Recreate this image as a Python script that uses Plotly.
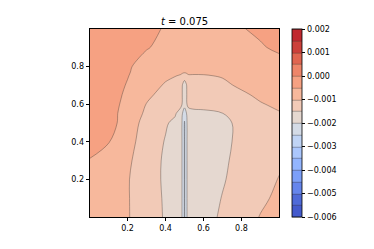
import numpy as np
import plotly.graph_objects as go

# ---------------- data ----------------
X = [0.0, 0.1, 0.2, 0.3, 0.4, 0.45, 0.48, 0.49, 0.5, 0.51, 0.52, 0.55, 0.6, 0.7, 0.8, 0.9, 1.0]
Y = [0.0, 0.1, 0.2, 0.3, 0.4, 0.5, 0.55, 0.6, 0.65, 0.7, 0.75, 0.77, 0.8, 0.9, 1.0]

row_000 = [-0.0007, -0.00083, -0.00097, -0.00123, -0.00155, -0.0017, -0.0019, -0.00205, -0.00255, -0.00205, -0.0019, -0.0018, -0.0017, -0.00142, -0.00118, -0.00098, -0.0008]
row_010 = [-0.00072, -0.00085, -0.00097, -0.00125, -0.00156, -0.0017, -0.0019, -0.00205, -0.00255, -0.00205, -0.0019, -0.0018, -0.00172, -0.00148, -0.00125, -0.00107, -0.00092]
row_020 = [-0.00072, -0.00086, -0.00097, -0.00126, -0.00158, -0.00172, -0.0019, -0.00205, -0.00255, -0.00205, -0.0019, -0.0018, -0.00174, -0.00154, -0.00132, -0.00115, -0.00098]
row_030 = [-0.00052, -0.0007, -0.00093, -0.00123, -0.00158, -0.00172, -0.0019, -0.00205, -0.00255, -0.00205, -0.0019, -0.0018, -0.00175, -0.00158, -0.00135, -0.00118, -0.00106]
row_040 = [-0.00035, -0.00048, -0.00085, -0.0012, -0.00153, -0.0017, -0.0019, -0.00205, -0.00255, -0.00205, -0.0019, -0.0018, -0.00175, -0.0016, -0.0014, -0.0012, -0.00106]
row_050 = [-0.0003, -0.00035, -0.00068, -0.00121, -0.00145, -0.0016, -0.0019, -0.00205, -0.00255, -0.00205, -0.0019, -0.0018, -0.00175, -0.0016, -0.0014, -0.0012, -0.00104]
row_055 = [-0.00028, -0.00035, -0.00066, -0.00109, -0.00135, -0.00145, -0.0017, -0.00203, -0.0023, -0.00203, -0.0017, -0.0016, -0.00158, -0.00151, -0.00128, -0.00112, -0.00102]
row_060 = [-0.00026, -0.00033, -0.00062, -0.00101, -0.0012, -0.0013, -0.00138, -0.00155, -0.0018, -0.00155, -0.00138, -0.00138, -0.00138, -0.0013, -0.00115, -0.00102, -0.00094]
row_065 = [-0.00024, -0.0003, -0.00058, -0.00092, -0.00113, -0.0012, -0.00128, -0.00155, -0.0017, -0.00155, -0.00128, -0.00127, -0.00125, -0.00118, -0.00105, -0.00094, -0.00088]
row_070 = [-0.00022, -0.00028, -0.00053, -0.00082, -0.00104, -0.0011, -0.00115, -0.00155, -0.0017, -0.00155, -0.00115, -0.00116, -0.00115, -0.00106, -0.00095, -0.00088, -0.00083]
row_075 = [-0.0002, -0.00026, -0.00048, -0.00075, -0.00093, -0.00099, -0.00102, -0.0011, -0.0013, -0.0011, -0.00102, -0.00102, -0.00102, -0.00098, -0.0009, -0.00084, -0.0008]
row_077 = [-0.00019, -0.00025, -0.00046, -0.00072, -0.00088, -0.00093, -0.00096, -0.00095, -0.00092, -0.00095, -0.00096, -0.00096, -0.00095, -0.00092, -0.00086, -0.00082, -0.00078]
row_080 = [-0.00018, -0.00023, -0.00044, -0.00068, -0.00084, -0.0009, -0.00092, -0.00092, -0.0009, -0.00092, -0.00092, -0.00092, -0.0009, -0.00086, -0.0008, -0.00074, -0.00066]
row_090 = [-0.00016, -0.0002, -0.00032, -0.00047, -0.00062, -0.00068, -0.0007, -0.0007, -0.00071, -0.0007, -0.0007, -0.00071, -0.00072, -0.0007, -0.00064, -0.00054, -0.00042]
row_100 = [-0.00015, -0.00018, -0.00027, -0.0004, -0.00053, -0.00058, -0.0006, -0.0006, -0.0006, -0.0006, -0.0006, -0.0006, -0.0006, -0.00058, -0.00052, -0.00042, -0.00032]

Z = [row_000, row_010, row_020, row_030, row_040, row_050, row_055, row_060,
     row_065, row_070, row_075, row_077, row_080, row_090, row_100]

LEVEL_START = -0.006
LEVEL_END = 0.002
LEVEL_STEP = 0.0005

X_TICKS = [0.2, 0.4, 0.6, 0.8]
X_LABELS = ["0.2", "0.4", "0.6", "0.8"]
Y_TICKS = [0.2, 0.4, 0.6, 0.8]
Y_LABELS = ["0.2", "0.4", "0.6", "0.8"]
CB_TICKS = [-0.006, -0.005, -0.004, -0.003, -0.002, -0.001, 0.0, 0.001, 0.002]
CB_LABELS = ["\u22120.006", "\u22120.005", "\u22120.004", "\u22120.003", "\u22120.002",
             "\u22120.001", "0.000", "0.001", "0.002"]
TITLE = "<i>t</i> = 0.075"

# ---------------- coolwarm colormap ----------------
_cw = [
    (0.0, 0.2298057, 0.298717966, 0.753683153),
    (0.03125, 0.26623388, 0.353094838, 0.801466763),
    (0.0625, 0.30386891, 0.406535296, 0.84495867),
    (0.09375, 0.342804478, 0.458757618, 0.883725899),
    (0.125, 0.38301334, 0.50941904, 0.917387822),
    (0.15625, 0.424369608, 0.558148092, 0.945619588),
    (0.1875, 0.46666708, 0.604562568, 0.968154911),
    (0.21875, 0.509635204, 0.648280772, 0.98478814),
    (0.25, 0.552953156, 0.688929332, 0.995375608),
    (0.28125, 0.596262162, 0.726149107, 0.999836203),
    (0.3125, 0.639176211, 0.759599947, 0.998151185),
    (0.34375, 0.681291281, 0.788964712, 0.990363227),
    (0.375, 0.722193294, 0.813952739, 0.976574709),
    (0.40625, 0.761464949, 0.834302879, 0.956945269),
    (0.4375, 0.798691636, 0.849786142, 0.931688648),
    (0.46875, 0.833466556, 0.860207984, 0.901068838),
    (0.5, 0.865395197, 0.86541021, 0.865395561),
    (0.53125, 0.897787179, 0.848937047, 0.820880546),
    (0.5625, 0.924127593, 0.827384882, 0.774508472),
    (0.59375, 0.944468518, 0.800927443, 0.726736146),
    (0.625, 0.958852946, 0.769767752, 0.678007945),
    (0.65625, 0.96732803, 0.734132809, 0.628751763),
    (0.6875, 0.969954137, 0.694266682, 0.579375448),
    (0.71875, 0.966811177, 0.650421156, 0.530263762),
    (0.75, 0.958003065, 0.602842431, 0.481775914),
    (0.78125, 0.943660866, 0.551750968, 0.434243684),
    (0.8125, 0.923944917, 0.49730856, 0.387970225),
    (0.84375, 0.89904617, 0.439559467, 0.343229596),
    (0.875, 0.869186849, 0.378313092, 0.300267182),
    (0.90625, 0.834620542, 0.312874446, 0.259301199),
    (0.9375, 0.795631745, 0.24128379, 0.220525627),
    (0.96875, 0.752534934, 0.157246067, 0.184115123),
    (1.0, 0.705673158, 0.01555616, 0.150232812),
]
_cw = np.array(_cw)


def coolwarm(t):
    r = np.interp(t, _cw[:, 0], _cw[:, 1])
    g = np.interp(t, _cw[:, 0], _cw[:, 2])
    b = np.interp(t, _cw[:, 0], _cw[:, 3])
    return "rgb(%d,%d,%d)" % (round(r * 255), round(g * 255), round(b * 255))


n_bands = int(round((LEVEL_END - LEVEL_START) / LEVEL_STEP))
band_colors = [coolwarm((i + 0.5) / n_bands) for i in range(n_bands)]
nc = n_bands + 1
colorscale = [[0.0, band_colors[0]]]
for i in range(n_bands):
    colorscale.append([(i + 1) / nc, band_colors[i]])
colorscale.append([1.0, band_colors[-1]])

fig = go.Figure()
fig.add_trace(go.Contour(
    x=X, y=Y, z=Z,
    autocontour=False,
    contours=dict(start=LEVEL_START, end=LEVEL_END, size=LEVEL_STEP, coloring="fill"),
    colorscale=colorscale,
    zmin=LEVEL_START, zmax=LEVEL_END, zauto=False,
    line=dict(color="rgba(60,50,45,0.75)", width=0.5, smoothing=1.0),
    colorbar=dict(
        x=1.07, xanchor="left", xpad=0, ypad=0,
        y=0.5, yanchor="middle", len=1.0, lenmode="fraction",
        thickness=10, outlinewidth=0.8, outlinecolor="black",
        tickmode="array", tickvals=CB_TICKS, ticktext=CB_LABELS,
        ticks="outside", ticklen=3.5, tickwidth=0.8, tickcolor="black",
        tickfont=dict(family="DejaVu Sans", size=8, color="black"),
    ),
    hoverinfo="skip",
))

axis_common = dict(
    showgrid=False, zeroline=False, showline=True, mirror=True,
    linecolor="black", linewidth=0.8, ticks="outside", ticklen=3.5,
    tickwidth=0.8, tickcolor="black",
    tickfont=dict(family="DejaVu Sans", size=8, color="black"),
    tickmode="array",
)
fig.update_xaxes(range=[0.0025, 0.9975], tickvals=X_TICKS, ticktext=X_LABELS, **axis_common)
fig.update_yaxes(range=[0.0025, 0.9975], tickvals=Y_TICKS, ticktext=Y_LABELS, **axis_common)

fig.update_layout(
    width=374, height=249,
    margin=dict(l=90, r=95, t=29, b=32),
    paper_bgcolor="white", plot_bgcolor="white",
    title=dict(text=TITLE, x=0.4935, xanchor="center", y=1 - 21 / 249, yanchor="middle",
               font=dict(family="DejaVu Sans", size=10, color="black")),
    showlegend=False,
)

fig.write_html("out.html", config={"displayModeBar": False},
               post_script="document.body.style.margin='0px';")
